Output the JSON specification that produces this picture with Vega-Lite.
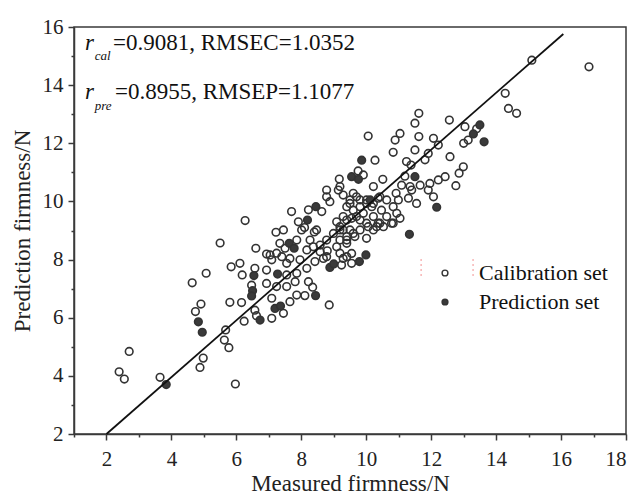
{
  "$schema": "https://vega.github.io/schema/vega-lite/v6.json",
  "width": 552,
  "height": 407,
  "autosize": "none",
  "padding": {"left": 74, "top": 27, "right": 12, "bottom": 65},
  "background": "white",
  "config": {
    "font": "Liberation Serif",
    "view": {"stroke": "#3a3a3a", "strokeWidth": 1.5},
    "axis": {
      "domainColor": "#3a3a3a", "domainWidth": 1.5,
      "tickColor": "#3a3a3a", "tickWidth": 1.5,
      "grid": false,
      "labelFont": "Liberation Serif, Times New Roman, serif", "titleFont": "Liberation Serif, Times New Roman, serif",
      "labelFontSize": 21, "titleFontSize": 23, "titleFontWeight": "normal",
      "labelColor": "#222", "titleColor": "#222"
    },
    "legend": {"labelFont": "Liberation Serif, Times New Roman, serif"}
  },
  "datasets": {
    "pts": [
      {"m":2.39,"p":4.14,"set":"Calibration set"},
      {"m":2.55,"p":3.89,"set":"Calibration set"},
      {"m":2.70,"p":4.84,"set":"Calibration set"},
      {"m":3.65,"p":3.95,"set":"Calibration set"},
      {"m":5.97,"p":3.72,"set":"Calibration set"},
      {"m":4.88,"p":4.29,"set":"Calibration set"},
      {"m":4.98,"p":4.61,"set":"Calibration set"},
      {"m":4.74,"p":6.21,"set":"Calibration set"},
      {"m":4.91,"p":6.47,"set":"Calibration set"},
      {"m":4.64,"p":7.20,"set":"Calibration set"},
      {"m":5.07,"p":7.53,"set":"Calibration set"},
      {"m":5.67,"p":5.58,"set":"Calibration set"},
      {"m":5.63,"p":5.23,"set":"Calibration set"},
      {"m":5.77,"p":4.97,"set":"Calibration set"},
      {"m":6.24,"p":5.88,"set":"Calibration set"},
      {"m":5.80,"p":6.53,"set":"Calibration set"},
      {"m":6.16,"p":6.52,"set":"Calibration set"},
      {"m":5.84,"p":7.75,"set":"Calibration set"},
      {"m":6.11,"p":7.87,"set":"Calibration set"},
      {"m":6.18,"p":7.47,"set":"Calibration set"},
      {"m":6.57,"p":7.70,"set":"Calibration set"},
      {"m":6.47,"p":7.12,"set":"Calibration set"},
      {"m":6.57,"p":6.26,"set":"Calibration set"},
      {"m":6.62,"p":6.07,"set":"Calibration set"},
      {"m":6.27,"p":9.34,"set":"Calibration set"},
      {"m":5.50,"p":8.57,"set":"Calibration set"},
      {"m":6.60,"p":8.39,"set":"Calibration set"},
      {"m":6.93,"p":8.19,"set":"Calibration set"},
      {"m":7.22,"p":8.94,"set":"Calibration set"},
      {"m":7.34,"p":8.56,"set":"Calibration set"},
      {"m":7.09,"p":6.67,"set":"Calibration set"},
      {"m":7.09,"p":5.98,"set":"Calibration set"},
      {"m":7.65,"p":6.55,"set":"Calibration set"},
      {"m":7.86,"p":6.78,"set":"Calibration set"},
      {"m":8.11,"p":6.76,"set":"Calibration set"},
      {"m":8.35,"p":7.05,"set":"Calibration set"},
      {"m":8.86,"p":6.44,"set":"Calibration set"},
      {"m":6.93,"p":7.64,"set":"Calibration set"},
      {"m":6.93,"p":7.18,"set":"Calibration set"},
      {"m":7.45,"p":6.15,"set":"Calibration set"},
      {"m":7.09,"p":7.99,"set":"Calibration set"},
      {"m":7.40,"p":8.10,"set":"Calibration set"},
      {"m":7.55,"p":7.87,"set":"Calibration set"},
      {"m":7.96,"p":7.99,"set":"Calibration set"},
      {"m":8.17,"p":7.70,"set":"Calibration set"},
      {"m":8.42,"p":7.93,"set":"Calibration set"},
      {"m":8.68,"p":8.04,"set":"Calibration set"},
      {"m":9.24,"p":7.81,"set":"Calibration set"},
      {"m":9.55,"p":7.87,"set":"Calibration set"},
      {"m":9.29,"p":8.04,"set":"Calibration set"},
      {"m":9.55,"p":8.21,"set":"Calibration set"},
      {"m":7.55,"p":7.47,"set":"Calibration set"},
      {"m":7.81,"p":7.24,"set":"Calibration set"},
      {"m":7.55,"p":7.07,"set":"Calibration set"},
      {"m":7.86,"p":7.53,"set":"Calibration set"},
      {"m":7.24,"p":7.07,"set":"Calibration set"},
      {"m":8.22,"p":7.24,"set":"Calibration set"},
      {"m":7.50,"p":8.39,"set":"Calibration set"},
      {"m":7.24,"p":8.22,"set":"Calibration set"},
      {"m":7.04,"p":8.16,"set":"Calibration set"},
      {"m":7.65,"p":8.04,"set":"Calibration set"},
      {"m":8.17,"p":8.33,"set":"Calibration set"},
      {"m":8.37,"p":8.44,"set":"Calibration set"},
      {"m":8.58,"p":8.27,"set":"Calibration set"},
      {"m":8.78,"p":8.10,"set":"Calibration set"},
      {"m":9.19,"p":8.22,"set":"Calibration set"},
      {"m":9.40,"p":8.10,"set":"Calibration set"},
      {"m":7.70,"p":9.65,"set":"Calibration set"},
      {"m":7.45,"p":9.02,"set":"Calibration set"},
      {"m":7.91,"p":9.30,"set":"Calibration set"},
      {"m":8.01,"p":9.02,"set":"Calibration set"},
      {"m":8.47,"p":9.02,"set":"Calibration set"},
      {"m":8.27,"p":8.67,"set":"Calibration set"},
      {"m":7.86,"p":8.67,"set":"Calibration set"},
      {"m":8.58,"p":8.50,"set":"Calibration set"},
      {"m":8.80,"p":8.30,"set":"Calibration set"},
      {"m":9.09,"p":8.44,"set":"Calibration set"},
      {"m":9.40,"p":8.56,"set":"Calibration set"},
      {"m":9.65,"p":8.79,"set":"Calibration set"},
      {"m":9.50,"p":9.02,"set":"Calibration set"},
      {"m":9.19,"p":9.02,"set":"Calibration set"},
      {"m":9.09,"p":9.30,"set":"Calibration set"},
      {"m":9.40,"p":9.36,"set":"Calibration set"},
      {"m":9.70,"p":9.48,"set":"Calibration set"},
      {"m":9.91,"p":9.59,"set":"Calibration set"},
      {"m":10.17,"p":9.82,"set":"Calibration set"},
      {"m":10.01,"p":9.25,"set":"Calibration set"},
      {"m":10.22,"p":9.02,"set":"Calibration set"},
      {"m":10.01,"p":8.73,"set":"Calibration set"},
      {"m":8.63,"p":9.65,"set":"Calibration set"},
      {"m":8.78,"p":10.16,"set":"Calibration set"},
      {"m":8.88,"p":9.99,"set":"Calibration set"},
      {"m":8.78,"p":10.39,"set":"Calibration set"},
      {"m":9.19,"p":10.51,"set":"Calibration set"},
      {"m":9.60,"p":10.28,"set":"Calibration set"},
      {"m":9.81,"p":10.05,"set":"Calibration set"},
      {"m":10.22,"p":10.51,"set":"Calibration set"},
      {"m":10.37,"p":10.11,"set":"Calibration set"},
      {"m":8.22,"p":9.71,"set":"Calibration set"},
      {"m":8.10,"p":9.10,"set":"Calibration set"},
      {"m":8.40,"p":8.95,"set":"Calibration set"},
      {"m":9.14,"p":10.39,"set":"Calibration set"},
      {"m":9.29,"p":10.22,"set":"Calibration set"},
      {"m":9.50,"p":10.05,"set":"Calibration set"},
      {"m":9.70,"p":10.16,"set":"Calibration set"},
      {"m":9.40,"p":9.82,"set":"Calibration set"},
      {"m":9.60,"p":9.70,"set":"Calibration set"},
      {"m":9.81,"p":9.82,"set":"Calibration set"},
      {"m":10.01,"p":10.05,"set":"Calibration set"},
      {"m":10.22,"p":9.93,"set":"Calibration set"},
      {"m":10.42,"p":10.16,"set":"Calibration set"},
      {"m":10.47,"p":9.70,"set":"Calibration set"},
      {"m":10.63,"p":10.05,"set":"Calibration set"},
      {"m":10.83,"p":9.82,"set":"Calibration set"},
      {"m":10.63,"p":9.48,"set":"Calibration set"},
      {"m":10.42,"p":9.25,"set":"Calibration set"},
      {"m":10.22,"p":9.48,"set":"Calibration set"},
      {"m":9.81,"p":9.36,"set":"Calibration set"},
      {"m":9.55,"p":9.42,"set":"Calibration set"},
      {"m":9.29,"p":9.48,"set":"Calibration set"},
      {"m":9.19,"p":9.13,"set":"Calibration set"},
      {"m":8.99,"p":8.90,"set":"Calibration set"},
      {"m":8.78,"p":8.67,"set":"Calibration set"},
      {"m":9.19,"p":8.67,"set":"Calibration set"},
      {"m":9.40,"p":8.79,"set":"Calibration set"},
      {"m":9.60,"p":8.90,"set":"Calibration set"},
      {"m":9.81,"p":9.02,"set":"Calibration set"},
      {"m":10.06,"p":9.13,"set":"Calibration set"},
      {"m":10.32,"p":9.13,"set":"Calibration set"},
      {"m":10.53,"p":9.13,"set":"Calibration set"},
      {"m":10.78,"p":9.25,"set":"Calibration set"},
      {"m":10.94,"p":9.59,"set":"Calibration set"},
      {"m":11.19,"p":10.87,"set":"Calibration set"},
      {"m":11.09,"p":10.56,"set":"Calibration set"},
      {"m":11.35,"p":10.51,"set":"Calibration set"},
      {"m":11.66,"p":10.56,"set":"Calibration set"},
      {"m":11.96,"p":10.62,"set":"Calibration set"},
      {"m":12.22,"p":10.74,"set":"Calibration set"},
      {"m":12.43,"p":10.85,"set":"Calibration set"},
      {"m":11.91,"p":10.39,"set":"Calibration set"},
      {"m":12.07,"p":10.16,"set":"Calibration set"},
      {"m":11.55,"p":9.93,"set":"Calibration set"},
      {"m":11.30,"p":10.11,"set":"Calibration set"},
      {"m":11.40,"p":10.39,"set":"Calibration set"},
      {"m":10.92,"p":10.28,"set":"Calibration set"},
      {"m":10.99,"p":10.05,"set":"Calibration set"},
      {"m":11.04,"p":9.42,"set":"Calibration set"},
      {"m":10.83,"p":9.25,"set":"Calibration set"},
      {"m":10.37,"p":9.25,"set":"Calibration set"},
      {"m":9.40,"p":8.67,"set":"Calibration set"},
      {"m":9.29,"p":9.02,"set":"Calibration set"},
      {"m":9.50,"p":9.93,"set":"Calibration set"},
      {"m":10.01,"p":9.93,"set":"Calibration set"},
      {"m":10.51,"p":10.76,"set":"Calibration set"},
      {"m":9.17,"p":10.77,"set":"Calibration set"},
      {"m":9.91,"p":10.91,"set":"Calibration set"},
      {"m":9.75,"p":11.05,"set":"Calibration set"},
      {"m":10.06,"p":12.25,"set":"Calibration set"},
      {"m":10.89,"p":12.11,"set":"Calibration set"},
      {"m":10.83,"p":11.69,"set":"Calibration set"},
      {"m":10.27,"p":11.42,"set":"Calibration set"},
      {"m":11.04,"p":12.34,"set":"Calibration set"},
      {"m":11.50,"p":12.69,"set":"Calibration set"},
      {"m":11.62,"p":13.03,"set":"Calibration set"},
      {"m":11.62,"p":12.23,"set":"Calibration set"},
      {"m":12.07,"p":12.17,"set":"Calibration set"},
      {"m":12.22,"p":11.94,"set":"Calibration set"},
      {"m":11.50,"p":11.77,"set":"Calibration set"},
      {"m":11.24,"p":11.37,"set":"Calibration set"},
      {"m":11.38,"p":11.25,"set":"Calibration set"},
      {"m":11.81,"p":11.43,"set":"Calibration set"},
      {"m":11.91,"p":11.65,"set":"Calibration set"},
      {"m":12.56,"p":12.80,"set":"Calibration set"},
      {"m":12.58,"p":11.54,"set":"Calibration set"},
      {"m":12.99,"p":11.19,"set":"Calibration set"},
      {"m":12.86,"p":10.97,"set":"Calibration set"},
      {"m":12.76,"p":10.54,"set":"Calibration set"},
      {"m":13.14,"p":12.11,"set":"Calibration set"},
      {"m":13.00,"p":12.00,"set":"Calibration set"},
      {"m":13.40,"p":12.50,"set":"Calibration set"},
      {"m":13.04,"p":12.57,"set":"Calibration set"},
      {"m":14.28,"p":13.72,"set":"Calibration set"},
      {"m":14.38,"p":13.20,"set":"Calibration set"},
      {"m":14.63,"p":13.03,"set":"Calibration set"},
      {"m":15.10,"p":14.86,"set":"Calibration set"},
      {"m":16.86,"p":14.63,"set":"Calibration set"},
      {"m":3.84,"p":3.70,"set":"Prediction set"},
      {"m":4.95,"p":5.50,"set":"Prediction set"},
      {"m":4.83,"p":5.86,"set":"Prediction set"},
      {"m":6.54,"p":7.45,"set":"Prediction set"},
      {"m":6.50,"p":6.93,"set":"Prediction set"},
      {"m":6.47,"p":6.75,"set":"Prediction set"},
      {"m":6.73,"p":5.92,"set":"Prediction set"},
      {"m":7.27,"p":7.50,"set":"Prediction set"},
      {"m":7.19,"p":6.32,"set":"Prediction set"},
      {"m":7.36,"p":6.40,"set":"Prediction set"},
      {"m":7.63,"p":8.56,"set":"Prediction set"},
      {"m":7.78,"p":8.39,"set":"Prediction set"},
      {"m":8.44,"p":6.76,"set":"Prediction set"},
      {"m":8.19,"p":9.36,"set":"Prediction set"},
      {"m":8.45,"p":9.82,"set":"Prediction set"},
      {"m":8.88,"p":7.73,"set":"Prediction set"},
      {"m":9.00,"p":7.85,"set":"Prediction set"},
      {"m":9.79,"p":7.93,"set":"Prediction set"},
      {"m":9.99,"p":8.16,"set":"Prediction set"},
      {"m":9.55,"p":10.85,"set":"Prediction set"},
      {"m":9.76,"p":10.76,"set":"Prediction set"},
      {"m":9.86,"p":11.42,"set":"Prediction set"},
      {"m":10.12,"p":10.05,"set":"Prediction set"},
      {"m":11.50,"p":10.85,"set":"Prediction set"},
      {"m":12.17,"p":9.80,"set":"Prediction set"},
      {"m":11.33,"p":8.87,"set":"Prediction set"},
      {"m":13.30,"p":12.32,"set":"Prediction set"},
      {"m":13.50,"p":12.63,"set":"Prediction set"},
      {"m":13.63,"p":12.05,"set":"Prediction set"}
    ],
    "fit": [{"m": 2.0, "p": 2.0}, {"m": 16.07, "p": 15.76}],
    "ann": [
      {"m": 1.34, "p": 15.21, "part": "r", "t": "r"},
      {"m": 1.64, "p": 14.87, "part": "sub", "t": "cal"},
      {"m": 2.20, "p": 15.21, "part": "main", "t": "=0.9081, RMSEC=1.0352"},
      {"m": 1.34, "p": 13.53, "part": "r", "t": "r"},
      {"m": 1.64, "p": 13.15, "part": "sub", "t": "pre"},
      {"m": 2.26, "p": 13.53, "part": "main", "t": "=0.8955,  RMSEP=1.1077"}
    ],
    "dots": [
      {"m": 11.69, "p": 8.02, "p2": 7.40},
      {"m": 13.29, "p": 8.02, "p2": 7.40}
    ]
  },
  "resolve": {"axis": {"x": "independent", "y": "independent"}},
  "layer": [
    {
      "data": {"name": "fit"},
      "mark": {"type": "point", "opacity": 0},
      "encoding": {
        "x": {"field": "m", "type": "quantitative",
              "scale": {"domain": [1, 18], "nice": false, "zero": false},
              "axis": {"orient": "bottom", "values": [1,3,5,7,9,11,13,15,17], "tickSize": 3, "labels": false, "domain": false, "title": null}},
        "y": {"field": "p", "type": "quantitative",
              "scale": {"domain": [2, 16], "nice": false, "zero": false},
              "axis": {"orient": "left", "values": [3,5,7,9,11,13,15], "tickSize": 3, "labels": false, "domain": false, "title": null}}
      }
    },
    {
      "data": {"name": "dots"},
      "mark": {"type": "rule", "color": "#f4a3a3", "strokeWidth": 1.2, "strokeDash": [2, 3]},
      "encoding": {
        "x": {"field": "m", "type": "quantitative", "axis": null},
        "y": {"field": "p", "type": "quantitative", "axis": null},
        "y2": {"field": "p2"}
      }
    },
    {
      "data": {"name": "pts"},
      "mark": {"type": "point", "shape": "circle", "filled": true, "size": 58, "stroke": "#333", "strokeWidth": 1.6, "opacity": 1},
      "encoding": {
        "x": {"field": "m", "type": "quantitative",
              "scale": {"domain": [1, 18], "nice": false, "zero": false},
              "axis": {"orient": "bottom", "values": [2,4,6,8,10,12,14,16,18], "tickSize": 6, "labelPadding": 8, "title": "Measured firmness/N", "titlePadding": 3}},
        "y": {"field": "p", "type": "quantitative",
              "scale": {"domain": [2, 16], "nice": false, "zero": false},
              "axis": {"orient": "left", "values": [2,4,6,8,10,12,14,16], "tickSize": 6, "labelPadding": 5, "title": "Prediction firmness/N", "titlePadding": 8}},
        "fill": {"field": "set", "type": "nominal",
                 "scale": {"domain": ["Calibration set", "Prediction set"], "range": ["transparent", "#3a3a3a"]},
                 "legend": {"title": null, "orient": "none", "legendX": 360, "legendY": 235, "symbolType": "circle", "symbolSize": 34, "symbolStrokeColor": "#333", "symbolStrokeWidth": 1.4, "labelFont": "Liberation Serif, Times New Roman, serif", "labelFontSize": 22, "labelColor": "#111", "labelOffset": 23, "rowPadding": 7}}
      }
    },
    {
      "data": {"name": "fit"},
      "mark": {"type": "line", "color": "#111", "strokeWidth": 1.8},
      "encoding": {
        "x": {"field": "m", "type": "quantitative", "axis": null},
        "y": {"field": "p", "type": "quantitative", "axis": null}
      }
    },
    {
      "data": {"name": "ann"},
      "transform": [{"filter": "datum.part === 'r'"}],
      "mark": {"type": "text", "font": "Liberation Serif, Times New Roman, serif", "fontStyle": "italic", "fontSize": 23, "align": "left", "baseline": "alphabetic", "color": "#111"},
      "encoding": {
        "x": {"field": "m", "type": "quantitative", "axis": null},
        "y": {"field": "p", "type": "quantitative", "axis": null},
        "text": {"field": "t"}
      }
    },
    {
      "data": {"name": "ann"},
      "transform": [{"filter": "datum.part === 'sub'"}],
      "mark": {"type": "text", "font": "Liberation Serif, Times New Roman, serif", "fontStyle": "italic", "fontSize": 13, "align": "left", "baseline": "alphabetic", "color": "#111"},
      "encoding": {
        "x": {"field": "m", "type": "quantitative", "axis": null},
        "y": {"field": "p", "type": "quantitative", "axis": null},
        "text": {"field": "t"}
      }
    },
    {
      "data": {"name": "ann"},
      "transform": [{"filter": "datum.part === 'main'"}],
      "mark": {"type": "text", "font": "Liberation Serif, Times New Roman, serif", "fontSize": 23, "align": "left", "baseline": "alphabetic", "color": "#111"},
      "encoding": {
        "x": {"field": "m", "type": "quantitative", "axis": null},
        "y": {"field": "p", "type": "quantitative", "axis": null},
        "text": {"field": "t"}
      }
    }
  ]
}
